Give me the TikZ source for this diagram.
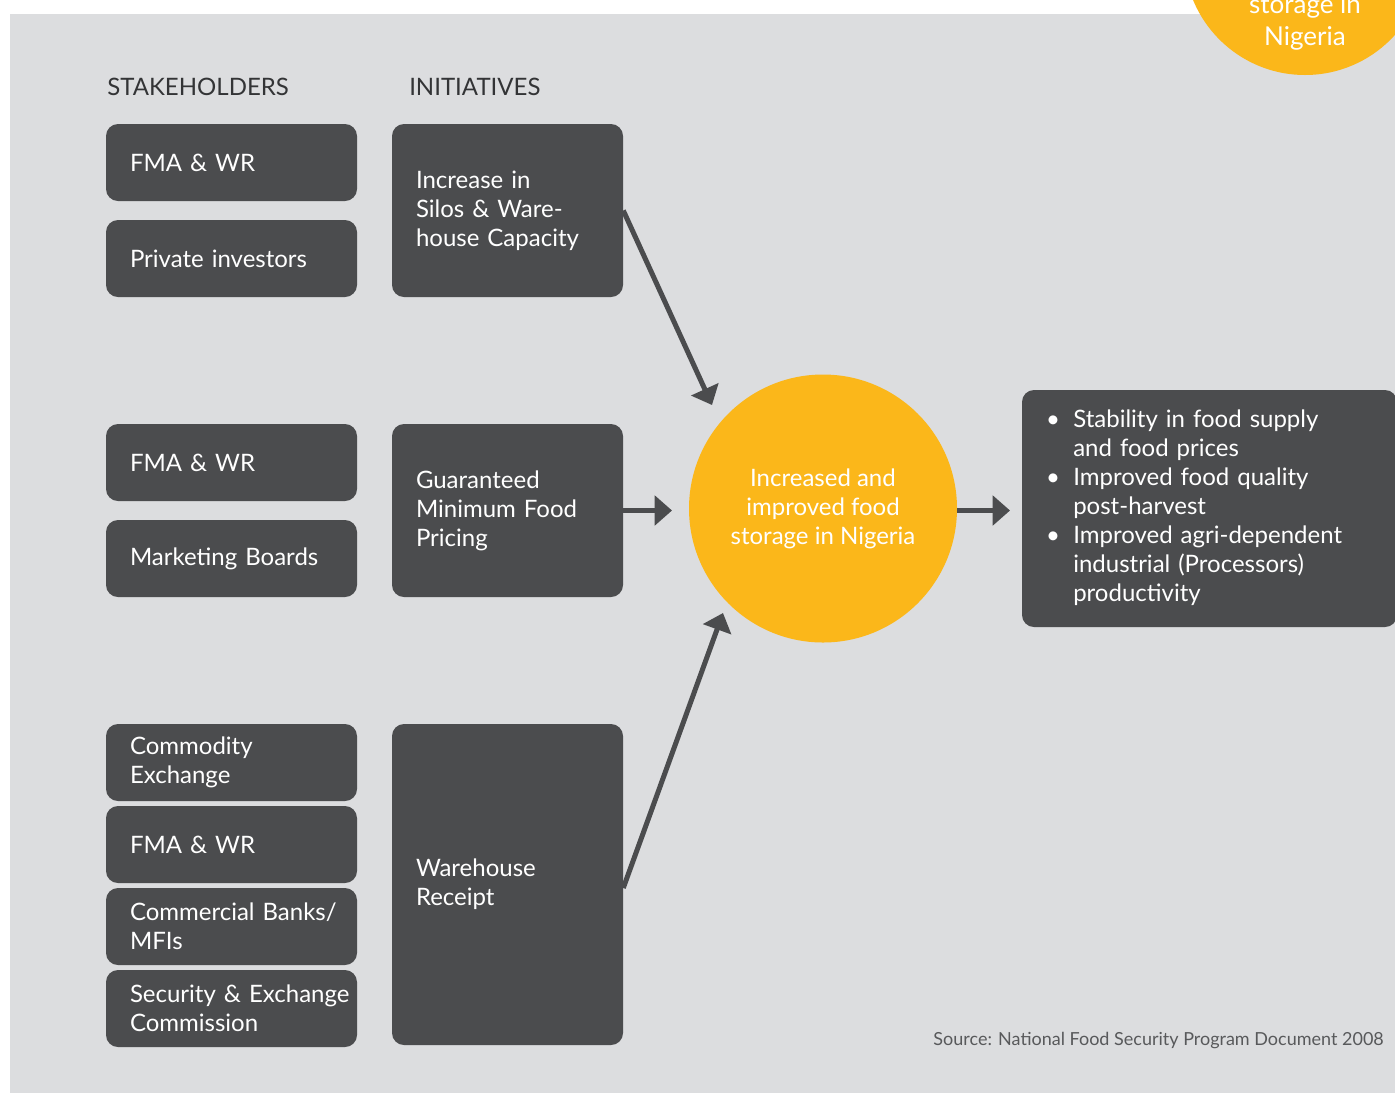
\documentclass[tikz,border=0pt]{standalone}
\usepackage{fontspec}
\setmainfont{Lato}
\usetikzlibrary{arrows.meta}
\definecolor{bggray}{HTML}{DCDDDF}
\definecolor{darkbox}{HTML}{4B4C4E}
\definecolor{ylw}{HTML}{FBB71A}
\definecolor{headtxt}{HTML}{333436}
\definecolor{srctxt}{HTML}{58595B}
\tikzset{
  boxtext/.style={font=\fontsize{18}{21.75}\selectfont},
  sbox/.style={boxtext, fill=darkbox, text=white, rounded corners=9pt, align=left,
    text width=152.25pt, inner xsep=18pt, inner ysep=0pt, minimum height=57.75pt},
  ibox/.style={boxtext, fill=darkbox, text=white, rounded corners=9pt, align=left,
    text width=137.25pt, inner xsep=18pt, inner ysep=0pt},
  outbox/.style={boxtext, fill=darkbox, text=white, rounded corners=9pt, align=left,
    text width=245.25pt, inner xsep=18pt, inner ysep=0pt, minimum height=177.75pt},
  bigcirc/.style={circle, fill=ylw, inner sep=0pt},
  headlbl/.style={boxtext, text=headtxt, anchor=base west, inner sep=0pt},
  arr/.style={draw=darkbox, line width=3.75pt, -{Triangle[length=13pt,width=22pt]}},
}
\begin{document}
\begin{tikzpicture}[x=0.75pt,y=-0.75pt]
\useasboundingbox (0,0) rectangle (1395,1093);
\fill[white] (0,0) rectangle (1395,1093);
\fill[bggray] (10,14) rectangle (1395,1093);

% top-right partial circle
\node[bigcirc, minimum size=181.5pt] (topc) at (1305,-46) {};
\node[boxtext, font=\fontsize{19.5}{24}\selectfont, text=white, align=center] (topctxt) at (1305,22) {storage in\\Nigeria};

% headers
\node[headlbl] (hs) at (107,95) {STAKEHOLDERS};
\node[headlbl] (hi) at (409,95) {INITIATIVES};

% stakeholders
\node[sbox] (s1) at (231.5,162.5) {FMA \& WR};
\node[sbox] (s2) at (231.5,258.5) {Private investors};
\node[sbox] (s3) at (231.5,462.5) {FMA \& WR};
\node[sbox] (s4) at (231.5,558.5) {Marketing Boards};
\node[sbox] (s5) at (231.5,762.5) {Commodity\\Exchange};
\node[sbox] (s6) at (231.5,844.5) {FMA \& WR};
\node[sbox] (s7) at (231.5,926.5) {\mbox{Commercial Banks/}\\MFIs};
\node[sbox] (s8) at (231.5,1008.5) {\mbox{Security \& Exchange}\\Commission};

% initiatives
\node[ibox, minimum height=129.75pt] (i1) at (507.5,210.5) {Increase in\\Silos \& Ware-\\house Capacity};
\node[ibox, minimum height=129.75pt] (i2) at (507.5,510.5) {Guaranteed\\Minimum Food\\Pricing};
\node[ibox, minimum height=240.75pt] (i3) at (507.5,884.5) {Warehouse\\Receipt};

% central circle
\node[bigcirc, minimum size=201pt, boxtext, text=white, align=center] (circ) at (823,508.5)
  {Increased and\\improved food\\storage in Nigeria};

% outcomes
\node[outbox] (out) at (1209.5,508.5) {%
  \begin{tabular}{@{}l@{\hspace{10pt}}l@{}}
  \textbullet & Stability in food supply\\
   & and food prices\\
  \textbullet & Improved food quality\\
   & post-harvest\\
  \textbullet & Improved agri-dependent\\
   & industrial (Processors)\\
   & productivity
  \end{tabular}};

% arrow end points
\coordinate (t1) at (712,405);
\coordinate (t2) at (672,510.5);
\coordinate (t3) at (1010,510.5);
\coordinate (t4) at (723,613);
\coordinate (b3) at (623,888);

\draw[arr] (i1.east) -- (t1);
\draw[arr] (i2.east) -- (t2);
\draw[arr] (circ.east |- t3) -- (t3);
\draw[arr] (i3.east |- b3) -- (t4);

% source
\node[font=\fontsize{13.5}{16}\selectfont, text=srctxt, anchor=east, inner sep=0pt] (src) at (1384,1040)
  {Source: National Food Security Program Document 2008};
\end{tikzpicture}
\end{document}
